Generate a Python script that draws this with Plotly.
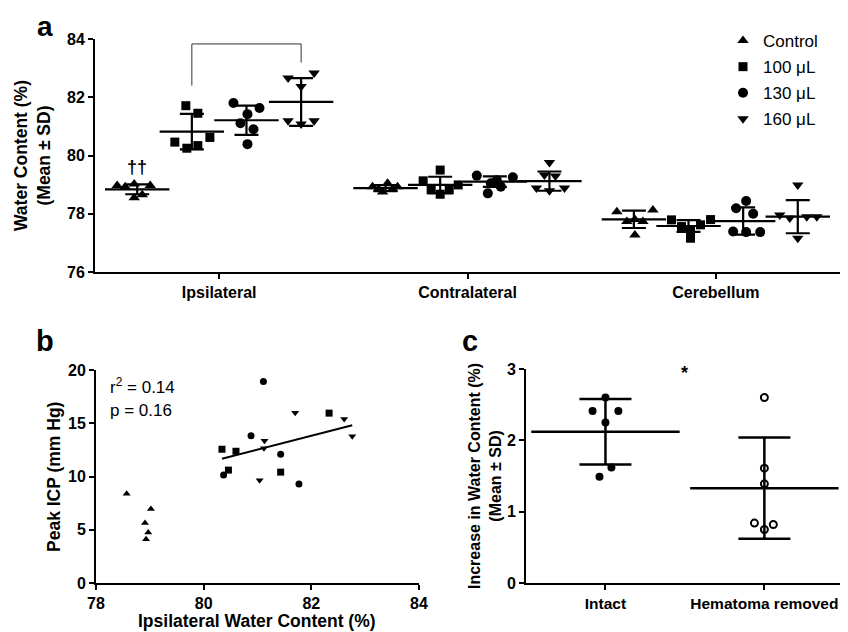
import numpy as np
import plotly.graph_objects as go

FONT = "Liberation Sans, Arial, sans-serif"

# ---------------- DATA ----------------
regions = ["Ipsilateral", "Contralateral", "Cerebellum"]
doses = ["Control", "100 μL", "130 μL", "160 μL"]

# Panel a: water content (%) per region (rows) for each dose, 6 animals
wc_control = [[78.97, 78.93, 79.02, 78.97, 78.65, 78.55],
              [79.05, 78.93, 78.93, 78.85, 78.85, 78.75],
              [78.07, 78.13, 77.73, 77.80, 77.73, 77.27]]
wc_100 = [[81.71, 81.45, 80.46, 80.62, 80.25, 80.34],
          [79.50, 79.13, 78.99, 78.82, 78.67, 78.82],
          [77.79, 77.80, 77.56, 77.62, 77.44, 77.16]]
wc_130 = [[81.80, 81.63, 81.42, 81.11, 80.90, 80.39],
          [79.31, 79.25, 79.15, 79.05, 78.93, 78.70],
          [78.44, 78.19, 78.00, 77.39, 77.37, 77.37]]
wc_160 = [[82.66, 82.83, 82.37, 81.19, 81.08, 81.19],
          [79.76, 79.33, 79.30, 78.88, 78.88, 78.79],
          [78.99, 77.96, 77.85, 77.90, 77.90, 77.16]]
mean_control = [78.84, 78.88, 77.81]
sd_control = [0.17, 0.10, 0.30]
mean_100 = [80.82, 78.99, 77.58]
sd_100 = [0.61, 0.28, 0.20]
mean_130 = [81.21, 79.10, 77.75]
sd_130 = [0.50, 0.18, 0.47]
mean_160 = [81.84, 79.12, 77.90]
sd_160 = [0.82, 0.33, 0.57]

# Panel b: ipsilateral water content (%) vs peak ICP (mm Hg)
b_control_x = [78.57, 79.02, 78.91, 78.97, 78.93]
b_control_y = [8.39, 6.96, 5.63, 4.75, 4.11]
b_100_x = [80.34, 80.60, 80.46, 81.43, 82.33]
b_100_y = [12.56, 12.37, 10.60, 10.41, 15.95]
b_130_x = [81.11, 80.88, 81.43, 80.37, 81.77]
b_130_y = [18.92, 13.83, 12.09, 10.13, 9.30]
b_160_x = [81.70, 82.61, 82.76, 81.13, 81.12, 81.04]
b_160_y = [15.98, 15.41, 13.77, 13.35, 12.66, 9.65]
b_stats = ["r<sup>2</sup> = 0.14", "p = 0.16"]

# Panel c: increase in water content (%)
c_groups = ["Intact", "Hematoma removed"]
c_intact = [2.60, 2.41, 2.41, 2.25, 1.62, 1.49]
c_removed = [2.60, 1.61, 1.39, 0.84, 0.82, 0.75]
c_mean = [2.12, 1.33]
c_sd = [0.46, 0.71]

# ---------------- LAYOUT CONSTANTS ----------------
# page has an 8 px body margin, so the figure is drawn 8 px in from the corner
OFF = 8
W, H = 848 - OFF, 632 - OFF
def px(x):
    return (x - OFF) / W
def py(y):
    return 1 - (y - OFF) / H

dose_offset = [-0.33, -0.11, 0.11, 0.33]
# horizontal scatter spread (px) of the dots within each group
jit_a = [
    [[-20, -12, -3, 13, 5, -3], [2, -13, 12, -7, 7, -3], [-17, 19, -7, 1, 9, 1]],
    [[-6, 6, -17, 18, -5, 6], [0, -17, 18, -9, 0, 9], [-17, 22, -7, 12, 2, 2]],
    [[-13, 13, 1, -6, 7, 1], [-18, 18, 2, -4, 6, -7], [3, -7, 10, -10, 3, 17]],
    [[-13, 13, 0, -13, 0, 13], [0, -5, 6, -13, 15, 0], [0, -18, -8, 9, 19, 0]],
]
PX_PER_CAT = 248.0
jit_c = [[0, -13, 13, 0, 6, -6], [0, 0, 0, -10, 9, 0]]
PX_PER_CAT_C = 160.0

fig = go.Figure()

symbols = ["triangle-up", "square", "circle", "triangle-down"]
sizes_a = [10, 9, 10, 10]
all_wc = [wc_control, wc_100, wc_130, wc_160]
all_mean = [mean_control, mean_100, mean_130, mean_160]
all_sd = [sd_control, sd_100, sd_130, sd_160]

# ---- Panel a points ----
for d in range(4):
    xs, ys = [], []
    for r in range(3):
        for k, v in enumerate(all_wc[d][r]):
            xs.append(r + dose_offset[d] + jit_a[d][r][k] / PX_PER_CAT)
            ys.append(v)
    fig.add_trace(go.Scatter(
        x=xs, y=ys, mode="markers", name=doses[d],
        marker=dict(symbol=symbols[d], size=sizes_a[d], color="black"),
        xaxis="x", yaxis="y", showlegend=True, legendgroup=doses[d]))

# ---- Panel a mean ± SD ----
for d in range(4):
    fig.add_trace(go.Scatter(
        x=[r + dose_offset[d] for r in range(3)], y=all_mean[d],
        mode="markers",
        marker=dict(symbol="line-ew", size=46, color="black",
                    line=dict(width=2.2, color="black")),
        error_y=dict(type="data", array=all_sd[d], visible=True,
                     color="black", thickness=2.2, width=12),
        xaxis="x", yaxis="y", showlegend=False, hoverinfo="skip"))

# ---- Panel b ----
b_sets = [(b_control_x, b_control_y), (b_100_x, b_100_y),
          (b_130_x, b_130_y), (b_160_x, b_160_y)]
for d in range(4):
    fig.add_trace(go.Scatter(
        x=b_sets[d][0], y=b_sets[d][1], mode="markers",
        marker=dict(symbol=symbols[d], size=7, color="black"),
        xaxis="x2", yaxis="y2", showlegend=False))

fit_x = np.array(b_100_x + b_130_x + b_160_x)
fit_y = np.array(b_100_y + b_130_y + b_160_y)
slope, icpt = np.polyfit(fit_x, fit_y, 1)
lx = np.array([fit_x.min(), fit_x.max()])
fig.add_trace(go.Scatter(x=lx, y=slope * lx + icpt, mode="lines",
                         line=dict(color="black", width=2),
                         xaxis="x2", yaxis="y2", showlegend=False))

# ---- Panel c ----
c_sets = [c_intact, c_removed]
for g in range(2):
    fig.add_trace(go.Scatter(
        x=[g + j / PX_PER_CAT_C for j in jit_c[g]], y=c_sets[g], mode="markers",
        marker=dict(symbol="circle", size=8 if g == 0 else 7,
                    color="black" if g == 0 else "white",
                    line=dict(color="black", width=0 if g == 0 else 2)),
        xaxis="x3", yaxis="y3", showlegend=False))
fig.add_trace(go.Scatter(
    x=[0, 1], y=c_mean, mode="markers",
    marker=dict(symbol="line-ew", size=106, color="black",
                line=dict(width=2.5, color="black")),
    error_y=dict(type="data", array=c_sd, visible=True,
                 color="black", thickness=2.5, width=26),
    xaxis="x3", yaxis="y3", showlegend=False, hoverinfo="skip"))

# ---------------- AXES ----------------
tickfont = dict(family=FONT, size=16, color="black", weight="bold")
axis_common = dict(showline=True, linewidth=2, linecolor="black", ticks="outside",
                   ticklen=5, tickwidth=2, tickcolor="black", showgrid=False,
                   zeroline=False, tickfont=tickfont, automargin=False)
axis_c_x = dict(axis_common)
axis_c_x["tickfont"] = dict(family=FONT, size=15.5, color="black", weight="bold")

fig.update_layout(
    width=W, height=H, margin=dict(l=0, r=0, t=0, b=0),
    plot_bgcolor="white", paper_bgcolor="white",
    font=dict(family=FONT, color="black"),
    xaxis=dict(domain=[px(95), px(840)], range=[-0.5, 2.5], tickvals=[0, 1, 2],
               ticktext=regions, anchor="y", **axis_common),
    yaxis=dict(domain=[py(272), py(39)], range=[76, 84], dtick=2, anchor="x",
               **axis_common),
    xaxis2=dict(domain=[px(96), px(419)], range=[78, 84], dtick=2, anchor="y2",
                **axis_common),
    yaxis2=dict(domain=[py(583), py(370)], range=[0, 20], dtick=5, anchor="x2",
                **axis_common),
    xaxis3=dict(domain=[px(526), px(847)], range=[-0.5, 1.52], tickvals=[0, 1],
                ticktext=c_groups, anchor="y3", **axis_c_x),
    yaxis3=dict(domain=[py(583), py(369)], range=[0, 3], dtick=1, anchor="x3",
                **axis_common),
    legend=dict(x=px(723), y=py(23), xanchor="left", yanchor="top",
                font=dict(family=FONT, size=17, color="black"),
                bgcolor="rgba(0,0,0,0)", tracegroupgap=1, traceorder="grouped"),
)

# significance bracket in panel a
x100 = 0 + dose_offset[1]
x160 = 0 + dose_offset[3]
fig.add_shape(type="path", xref="x", yref="y",
              path=f"M {x100},82.4 L {x100},83.83 L {x160},83.83 L {x160},83.19",
              line=dict(color="#333333", width=1))

ann = []
def a(text, x, y, size, bold=True, angle=0, xref="paper", yref="paper",
      xanchor="center", yanchor="middle"):
    ann.append(dict(text=text, x=x, y=y, xref=xref, yref=yref, showarrow=False,
                    textangle=angle, xanchor=xanchor, yanchor=yanchor,
                    font=dict(family=FONT, size=size, color="black",
                              weight="bold" if bold else "normal")))

a("*", (x100 + x160) / 2, 84.12, 18, xref="x", yref="y")
a("††", 0 + dose_offset[0], 79.62, 18, xref="x", yref="y")
a("a", px(45), py(8.5), 28, yanchor="top")
a("b", px(45), py(341), 29)
a("c", px(470), py(341), 29)
a("Water Content (%)<br>(Mean ± SD)", px(32), py(156), 17.5, angle=-90)
a("Peak ICP (mm Hg)", px(54), py(477), 17.5, angle=-90)
a("Ipsilateral Water Content (%)", px(257), py(621), 17.5)
a("Increase in Water Content (%)<br>(Mean ± SD)", px(485), py(476), 16, angle=-90)
a(b_stats[0], px(108), py(386), 17, bold=False, xanchor="left")
a(b_stats[1], px(108), py(410), 17, bold=False, xanchor="left")
a("*", 0.5, 2.95, 18, xref="x3", yref="y3")
fig.update_layout(annotations=ann)

fig.write_html("out.html")
